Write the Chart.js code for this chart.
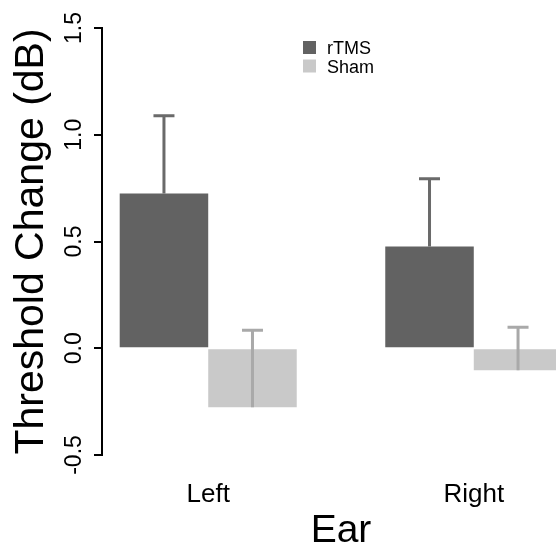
<!DOCTYPE html>
<html>
<head>
<meta charset="utf-8">
<script src="https://cdn.jsdelivr.net/npm/chart.js@4.4.0/dist/chart.umd.min.js"></script>
<style>
  body { margin: 0; background: #fff; overflow: hidden; }
  #wrap { width: 556px; height: 548px; overflow: hidden; }
</style>
</head>
<body>
<div id="wrap"><canvas id="myCanvas" width="580" height="548"></canvas></div>
<script>
const categories = ["Left", "Right"];
const seriesNames = ["rTMS", "Sham"];
const rtmsValues = [0.725, 0.477];
const rtmsErrors = [0.364, 0.317];
const shamValues = [-0.276, -0.103];
const shamErrors = [0.36, 0.201];
const yTicks = [-0.5, 0.0, 0.5, 1.0, 1.5];

// group centres as R's barplot lays them out (space 1, two bars each)
const groupPos = categories.map((c, i) => 2 + 3 * i);

const FONT = "'Liberation Sans', Arial, sans-serif";
const barColors = ["#626262", "#c9c9c9"];
const errColors = ["#6a6a6a", "#a9a9a9"];

const errorBars = {
  id: "errorBars",
  afterDatasetsDraw(chart) {
    const ctx = chart.ctx;
    const y = chart.scales.y;
    chart.data.datasets.forEach((ds, di) => {
      const meta = chart.getDatasetMeta(di);
      meta.data.forEach((bar, i) => {
        const v = ds.data[i].y;
        const top = y.getPixelForValue(v + ds.errors[i]);
        const base = y.getPixelForValue(v);
        ctx.save();
        ctx.strokeStyle = errColors[di];
        ctx.lineWidth = 3;
        ctx.beginPath();
        ctx.moveTo(bar.x, base);
        ctx.lineTo(bar.x, top);
        ctx.moveTo(bar.x - 10.5, top);
        ctx.lineTo(bar.x + 10.5, top);
        ctx.stroke();
        ctx.restore();
      });
    });
  }
};

const boxLegend = {
  id: "boxLegend",
  afterDraw(chart) {
    const ctx = chart.ctx;
    ctx.save();
    ctx.font = "18px " + FONT;
    ctx.textBaseline = "alphabetic";
    chart.data.datasets.forEach((ds, i) => {
      ctx.fillStyle = barColors[i];
      ctx.fillRect(303, 41 + i * 18.5, 13, 13);
      ctx.fillStyle = "#000";
      ctx.fillText(ds.label, 327, 54 + i * 18.5);
    });
    ctx.restore();
  }
};

let ctx = document.getElementById("myCanvas").getContext("2d");

new Chart(ctx, {
  type: "bar",
  data: {
    datasets: [
      {
        label: seriesNames[0],
        data: categories.map((c, i) => ({ x: groupPos[i], y: rtmsValues[i] })),
        errors: rtmsErrors,
        backgroundColor: barColors[0],
        borderWidth: 0,
      },
      {
        label: seriesNames[1],
        data: categories.map((c, i) => ({ x: groupPos[i], y: shamValues[i] })),
        errors: shamErrors,
        backgroundColor: barColors[1],
        borderWidth: 0,
      },
    ],
  },
  options: {
    responsive: false,
    animation: false,
    devicePixelRatio: 1,
    categoryPercentage: 2 / 3,
    barPercentage: 1,
    layout: { padding: { left: 0, right: 0, top: 28, bottom: 0 } },
    plugins: {
      legend: { display: false },
      tooltip: { enabled: false },
    },
    scales: {
      x: {
        type: "linear",
        offset: false,
        min: 0.8,
        max: 6.2,
        grid: { display: false, offset: false },
        border: { display: false },
        afterBuildTicks: (scale) => {
          scale.ticks = groupPos.map((v) => ({ value: v }));
        },
        ticks: {
          autoSkip: false,
          maxRotation: 0,
          padding: 16,
          color: "#000",
          font: { family: FONT, size: 26 },
          callback: (v) => categories[groupPos.indexOf(v)],
        },
        title: {
          display: true,
          text: "Ear",
          color: "#000",
          font: { family: FONT, size: 39 },
          padding: { top: 6, bottom: -7 },
        },
        afterFit: (scale) => {
          scale.height = 548 - 455;
        },
      },
      y: {
        min: -0.5,
        max: 1.5,
        afterBuildTicks: (scale) => {
          scale.ticks = yTicks.map((v) => ({ value: v }));
        },
        grid: {
          drawOnChartArea: false,
          drawTicks: true,
          tickLength: 8,
          tickColor: "#000",
          lineWidth: 2,
        },
        border: { display: true, color: "#000", width: 2 },
        ticks: {
          minRotation: 90,
          maxRotation: 90,
          crossAlign: "center",
          padding: 0,
          color: "#000",
          font: { family: FONT, size: 23 },
          callback: (v) => v.toFixed(1),
        },
        title: {
          display: true,
          text: "Threshold Change (dB)",
          color: "#000",
          font: { family: FONT, size: 41 },
          padding: { top: 7, bottom: 0 },
        },
        afterFit: (scale) => {
          scale.width = 102;
        },
      },
    },
  },
  plugins: [errorBars, boxLegend],
});
</script>
</body>
</html>
